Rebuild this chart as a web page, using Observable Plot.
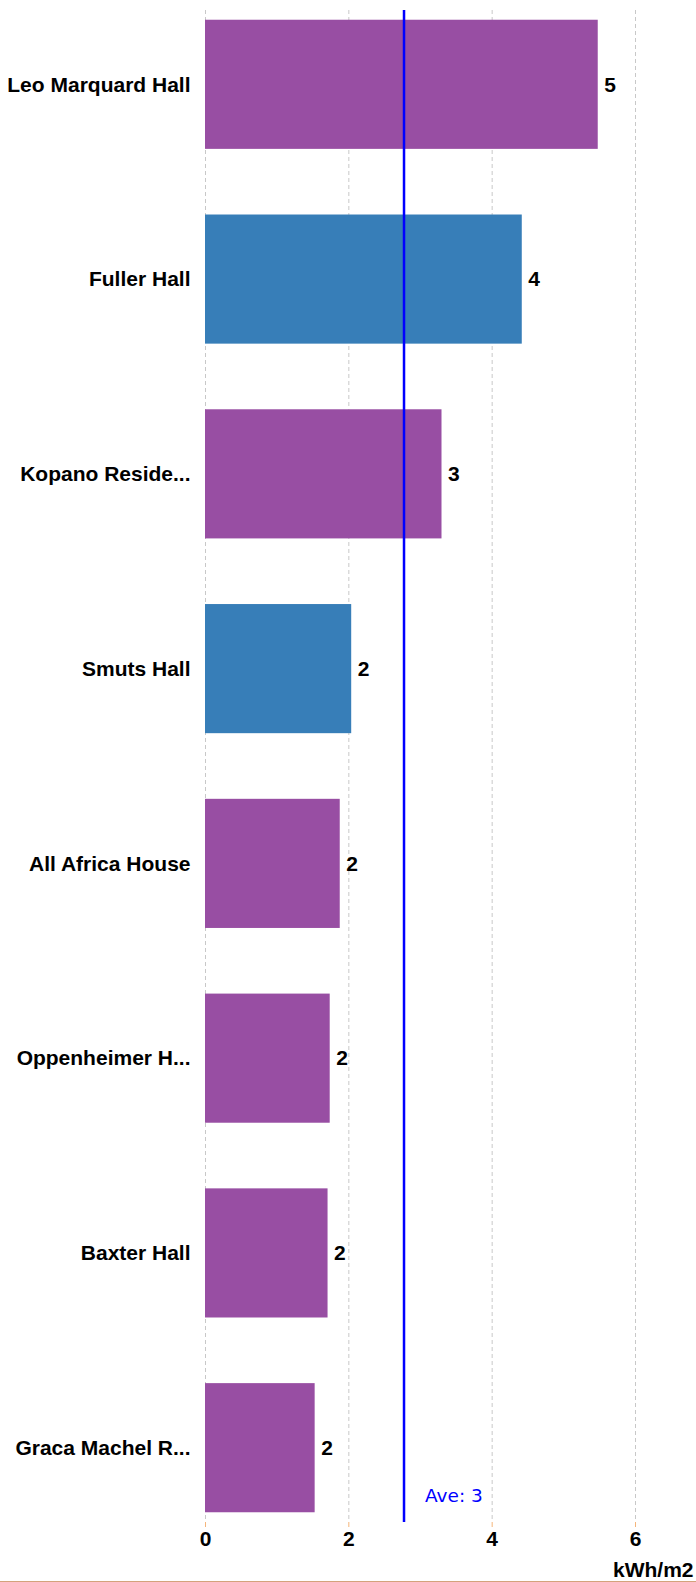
<!DOCTYPE html>
<html>
<head>
<meta charset="utf-8">
<script src="https://cdn.jsdelivr.net/npm/d3@7"></script>
<script src="https://cdn.jsdelivr.net/npm/@observablehq/plot@0.6"></script>
<style>
  html, body { margin: 0; padding: 0; background: #fff; }
  #chart svg { display: block; border-bottom: 1px solid #d4a27c; }
</style>
</head>
<body>
<div id="chart"></div>
<script>
const halls = ["Leo Marquard Hall", "Fuller Hall", "Kopano Reside...", "Smuts Hall", "All Africa House", "Oppenheimer H...", "Baxter Hall", "Graca Machel R..."];
const values = [5.48, 4.42, 3.30, 2.04, 1.88, 1.74, 1.71, 1.53];
const groups = ["A", "B", "A", "B", "A", "A", "A", "A"];
const xTicks = [0, 2, 4, 6];
const average = [2.77];
const averageLabel = ["Ave: 3"];
const unitLabel = ["kWh/m2"];

const data = halls.map((name, i) => ({name, value: values[i], group: groups[i]}));
const boldFont = "'Liberation Sans', Arial, sans-serif";

const chart = Plot.plot({
  width: 696,
  height: 1581,
  marginTop: 10,
  marginBottom: 59,
  marginLeft: 205,
  marginRight: 61,
  style: {fontFamily: boldFont, fontSize: "21px", fontWeight: "bold", color: "#000", background: "#fff"},
  x: {domain: [0, 6], ticks: xTicks, label: null},
  y: {domain: halls, paddingInner: 0.337, paddingOuter: 0.05, round: false, label: null},
  color: {domain: ["A", "B"], range: ["#984ea3", "#377eb8"]},
  marks: [
    Plot.gridX(xTicks, {stroke: "#c8c8c8", strokeOpacity: 1, strokeDasharray: "4,3", strokeWidth: 1}),
    Plot.barX(data, {x: "value", y: "name", fill: "group"}),
    Plot.text(data, {x: "value", y: "name", text: d => d3.format(".0f")(d.value), dx: 6, textAnchor: "start", fill: "#000", fontWeight: "bold", fontSize: 21}),
    Plot.ruleX(average, {x: d => d, stroke: "#0000ff", strokeWidth: 2.5}),
    Plot.text(averageLabel, {x: () => average[0], text: d => d, frameAnchor: "bottom", dx: 21, dy: -26, textAnchor: "start", lineAnchor: "middle", fill: "#0000ff", fontFamily: "'DejaVu Sans', Verdana, sans-serif", fontWeight: "normal", fontSize: 18.5}),
    Plot.axisX(xTicks, {tickSize: 5, stroke: "#f5b57a", tickPadding: 4, fill: "#000", label: null}),
    Plot.axisY(halls, {tickSize: 0, tickPadding: 15, fill: "#000", label: null}),
    Plot.text(unitLabel, {frameAnchor: "bottom-right", text: d => d, dx: 58, dy: 48, textAnchor: "end", lineAnchor: "middle", fill: "#000", fontWeight: "bold", fontSize: 21})
  ]
});
document.getElementById("chart").appendChild(chart);
</script>
</body>
</html>
